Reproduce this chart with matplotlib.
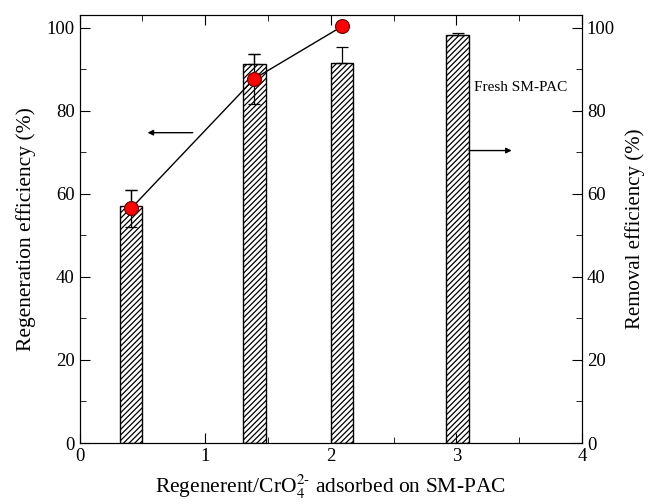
import numpy as np
import matplotlib
matplotlib.use('Agg')
from matplotlib import pyplot as plt

plt.rcParams['font.family'] = ['Liberation Serif', 'DejaVu Serif']
plt.rcParams['hatch.linewidth'] = 0.9
plt.rcParams['mathtext.fontset'] = 'stix'

# removal efficiency bars (right axis)
bar_x = [0.41, 1.39, 2.09, 3.01]
bar_val = [57.1, 91.2, 91.5, 98.1]
bar_err = [3.7, 2.5, 3.8, 0.5]

# regeneration efficiency points (left axis)
pt_x = [0.41, 1.39, 2.09]
pt_val = [56.5, 87.7, 100.3]
pt_err = [4.5, 6.0, 0.0]

fig = plt.figure(figsize=(6.49, 5.04), dpi=100)
ax = fig.add_axes([0.1228, 0.121, 0.774, 0.849])
ax2 = ax.twinx()

ax2.bar(bar_x, bar_val, width=0.18, color='white', edgecolor='black',
        hatch='//////', linewidth=1.0, zorder=2)
ax2.errorbar(bar_x, bar_val, yerr=[np.zeros(len(bar_err)), bar_err], fmt='none',
             ecolor='black', elinewidth=0.9, capsize=4, capthick=0.9, zorder=3)
ax2.set_ylim(0, 103)

ax.set_zorder(ax2.get_zorder() + 1)
ax.patch.set_visible(False)
ax.errorbar(pt_x, pt_val, yerr=pt_err, fmt='none', ecolor='black',
            elinewidth=0.9, capsize=4, capthick=0.9, zorder=3)
ax.plot(pt_x, pt_val, color='black', linewidth=1.0, marker='o', markersize=10,
        markerfacecolor='red', markeredgecolor='#600000', markeredgewidth=0.8, zorder=4)
ax.set_xlim(0, 4)
ax.set_ylim(0, 103)

# arrows
ax.annotate('', xy=(0.54, 74.7), xytext=(0.9, 74.7),
            arrowprops=dict(arrowstyle='-|>', color='black', lw=1.0,
                            mutation_scale=8, shrinkA=0, shrinkB=0))
ax.annotate('', xy=(3.44, 70.4), xytext=(3.1, 70.4),
            arrowprops=dict(arrowstyle='-|>', color='black', lw=1.0,
                            mutation_scale=8, shrinkA=0, shrinkB=0))
ax.text(3.14, 85.5, 'Fresh SM-PAC', fontsize=11, va='center', ha='left')

ax.set_xticks([0, 1, 2, 3, 4])
ax.set_xticks([0.5, 1.5, 2.5, 3.5], minor=True)
for a in (ax, ax2):
    a.set_yticks([0, 20, 40, 60, 80, 100])
    a.set_yticks([10, 30, 50, 70, 90], minor=True)
ax.tick_params(which='both', direction='in', top=True, labelsize=13.5)
ax.tick_params(which='major', length=7)
ax.tick_params(which='minor', length=4)
ax2.tick_params(which='both', direction='in', labelsize=13.5)
ax2.tick_params(which='major', length=7)
ax2.tick_params(which='minor', length=4)

ax.set_xlabel('Regenerent/CrO$_4^{2\\text{-}}$ adsorbed on SM-PAC', fontsize=15.5, labelpad=6)
ax.set_ylabel('Regeneration efficiency (%)', fontsize=15.5, labelpad=8)
ax2.set_ylabel('Removal efficiency (%)', fontsize=15, labelpad=7)

fig.savefig('out.png', dpi=100)
